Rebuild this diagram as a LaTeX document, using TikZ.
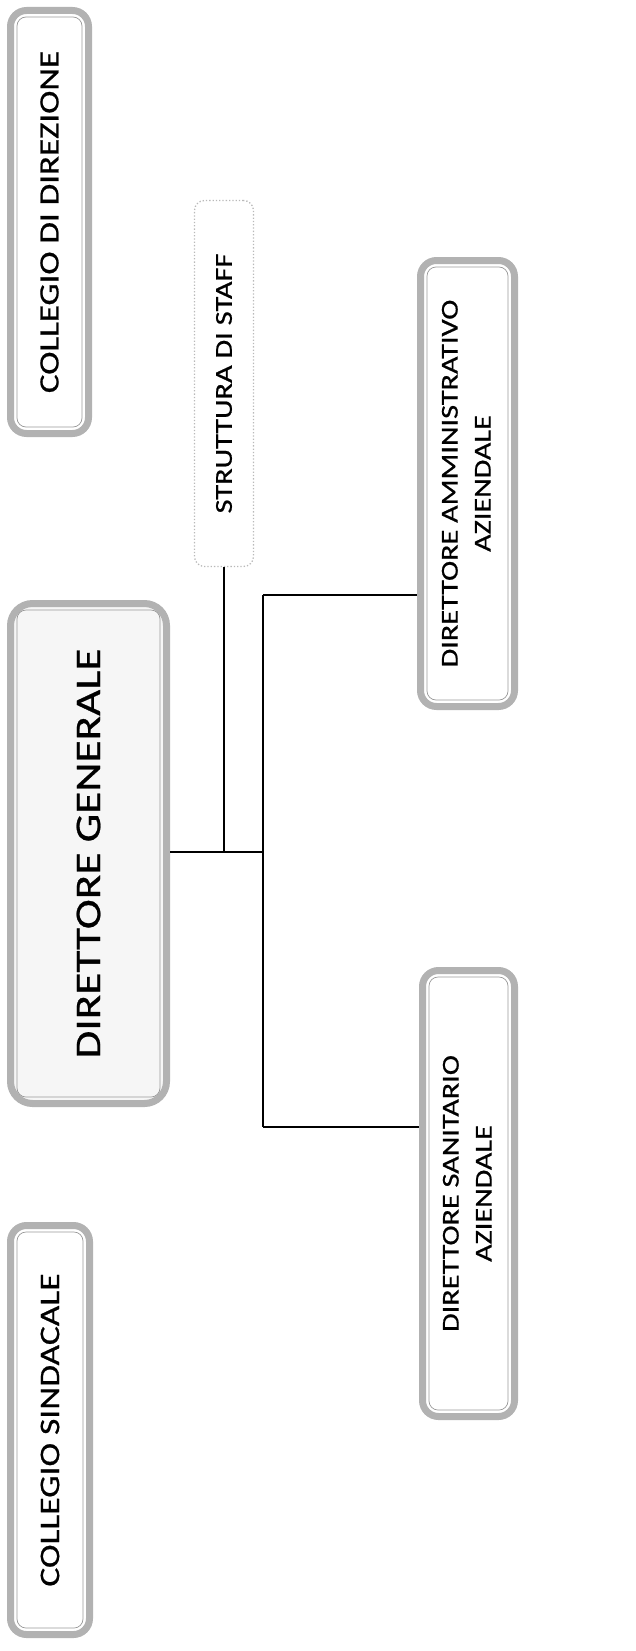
\documentclass[tikz,border=0pt]{standalone}
\usepackage{fontspec}
\setmainfont[FakeBold=0.6]{Carlito}
\newcommand\uptext[1]{\rotatebox{90}{\scalebox{1.25}[1]{#1}}}
\newcommand\uptwo[2]{\rotatebox{90}{\scalebox{1.25}[1]{\begin{tabular}{@{}c@{}}#1\\#2\end{tabular}}}}
\tikzset{
  orgbox/.style={draw=gray!60, line width=7pt, rounded corners=16pt, inner sep=0pt, text=black},
  innerline/.style={draw=gray!80, line width=0.7pt, rounded corners=9pt},
  staffbox/.style={draw=gray!55, line width=1.3pt, dotted, rounded corners=10pt, inner sep=0pt},
  link/.style={draw=black, line width=1.5pt},
  mainlink/.style={draw=black, line width=2pt},
}
\begin{document}
\begin{tikzpicture}[x=1pt,y=-1pt]
\useasboundingbox (0,0) rectangle (635,1651);

% boxes (centre, outer size minus the border width)
\node[orgbox, minimum width=78pt, minimum height=423pt, font=\fontsize{28}{34}\selectfont]
  (cd) at (49.5,222) {\uptext{COLLEGIO DI DIREZIONE}};
\node[staffbox, minimum width=59pt, minimum height=366pt, font=\fontsize{24.3}{30}\selectfont]
  (staff) at (224,383.5) {\uptext{STRUTTURA DI STAFF}};
\node[orgbox, minimum width=94pt, minimum height=446pt, font=\fontsize{24.2}{33}\selectfont]
  (amm) at (467.5,483.5) {\uptwo{DIRETTORE AMMINISTRATIVO}{AZIENDALE}};
\node[orgbox, fill=gray!7, rounded corners=22pt, minimum width=156pt, minimum height=500pt, font=\fontsize{36.2}{42}\selectfont]
  (dg) at (88.5,853.5) {\uptext{DIRETTORE GENERALE}};
\node[orgbox, minimum width=92pt, minimum height=446pt, font=\fontsize{24.2}{33}\selectfont]
  (san) at (468.5,1193.5) {\uptwo{DIRETTORE SANITARIO}{AZIENDALE}};
\node[orgbox, minimum width=79pt, minimum height=409pt, font=\fontsize{28.4}{34}\selectfont]
  (cs) at (50,1430) {\uptext{COLLEGIO SINDACALE}};

% thin inner outline of the framed boxes
\foreach \n in {cd,amm,dg,san,cs}
  \draw[innerline] ([xshift=10pt,yshift=-10pt]\n.north west) rectangle ([xshift=-10pt,yshift=10pt]\n.south east);

% connectors
\coordinate (jt) at (263,595);
\coordinate (jb) at (263,1127);
\coordinate (jm) at (263,852);
\draw[mainlink] (dg.east |- jm) -- (jm);
\draw[link] (staff.south) -- (staff.south |- jm);
\draw[link] (jt) -- (jb);
\draw[link] (jt) -- (jt -| amm.west);
\draw[link] (jb) -- (jb -| san.west);
\end{tikzpicture}
\end{document}
